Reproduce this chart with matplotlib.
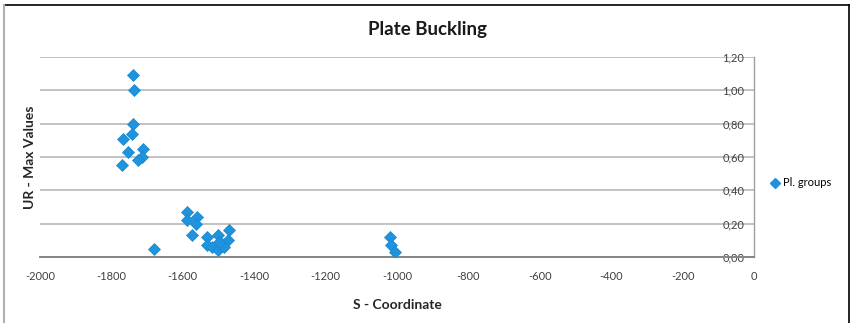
import matplotlib
matplotlib.use("Agg")
import matplotlib.pyplot as plt
from matplotlib.lines import Line2D

# Plate buckling utilisation ratio vs. S-coordinate
s_coord = [-1739, -1737, -1739, -1741, -1767, -1754, -1711, -1713, -1725, -1769,
           -1680,
           -1589, -1587, -1560, -1563, -1573, -1531, -1531, -1501, -1470,
           -1519, -1502, -1491, -1473, -1484, -1498,
           -1020, -1017, -1006]
ur_max = [1.09, 1.00, 0.80, 0.74, 0.71, 0.63, 0.65, 0.60, 0.58, 0.55,
          0.05,
          0.27, 0.22, 0.24, 0.20, 0.13, 0.12, 0.07, 0.13, 0.16,
          0.06, 0.04, 0.08, 0.10, 0.06, 0.09,
          0.12, 0.07, 0.03]

x_ticks = [-2000, -1800, -1600, -1400, -1200, -1000, -800, -600, -400, -200, 0]
y_ticks = [0.0, 0.2, 0.4, 0.6, 0.8, 1.0, 1.2]
y_tick_labels = ["0,00", "0,20", "0,40", "0,60", "0,80", "1,00", "1,20"]

plt.rcParams['font.family'] = ['Lato', 'DejaVu Sans']

W, H = 850, 323
fig = plt.figure(figsize=(W / 100, H / 100), dpi=100)
ax = fig.add_axes([40 / W, 1 - 257 / H, (754 - 40) / W, (257 - 57) / H])

color = "#1f93de"
ax.plot(s_coord, ur_max, linestyle="none", marker="D", markersize=6,
        color=color, markeredgecolor="#1a86cc", markeredgewidth=0.5,
        label="Pl. groups", zorder=3)

ax.set_xlim(-2000, 0)
ax.set_ylim(0, 1.2)
ax.set_xticks(x_ticks)
ax.set_xticklabels([str(t) for t in x_ticks])
ax.set_yticks(y_ticks)
ax.set_yticklabels(y_tick_labels)

ax.yaxis.tick_right()
ax.tick_params(axis="y", length=0, pad=-7, labelsize=8, colors="#404040")
for lab in ax.get_yticklabels():
    lab.set_horizontalalignment("right")
ax.tick_params(axis="x", length=0, pad=10, labelsize=8, colors="#404040")

ax.grid(axis="y", color="#b8b8b8", linewidth=1.2)
ax.set_axisbelow(True)
for side in ("top", "left"):
    ax.spines[side].set_visible(False)
ax.spines["bottom"].set_color("#868686")
ax.spines["bottom"].set_linewidth(1.4)
ax.spines["right"].set_color("#a0a0a0")
ax.spines["right"].set_linewidth(1.0)

ax.set_xlabel("S - Coordinate", fontsize=10, fontweight="bold", color="#262626")
ax.xaxis.set_label_coords(0.5, -0.21)
ax.yaxis.set_label_position("left")
ax.set_ylabel("UR - Max Values", fontsize=10, fontweight="bold", color="#262626")
ax.yaxis.set_label_coords(-0.006, 0.5)

fig.text(427 / W, 1 - 30 / H, "Plate Buckling", ha="center", va="center",
         fontsize=13.5, fontweight="bold", color="#1a1a1a")

fig.legend(handles=[Line2D([], [], linestyle="none", marker="D", markersize=5,
                           color=color, label="Pl. groups")],
           loc="center left", bbox_to_anchor=(772 / W, 1 - 183 / H),
           frameon=False, fontsize=8, handlelength=0.6, handletextpad=0.4,
           borderaxespad=0, borderpad=0)

# outer chart frame
fig.add_artist(Line2D([4 / W, 849 / W], [1 - 5 / H, 1 - 5 / H], color="black", lw=1.2))
fig.add_artist(Line2D([849 / W, 849 / W], [0, 1 - 5 / H], color="black", lw=1.2))
fig.add_artist(Line2D([4 / W, 4 / W], [0, 1 - 5 / H], color="#b0b0b0", lw=1.5))

fig.savefig("out.png", dpi=100)
